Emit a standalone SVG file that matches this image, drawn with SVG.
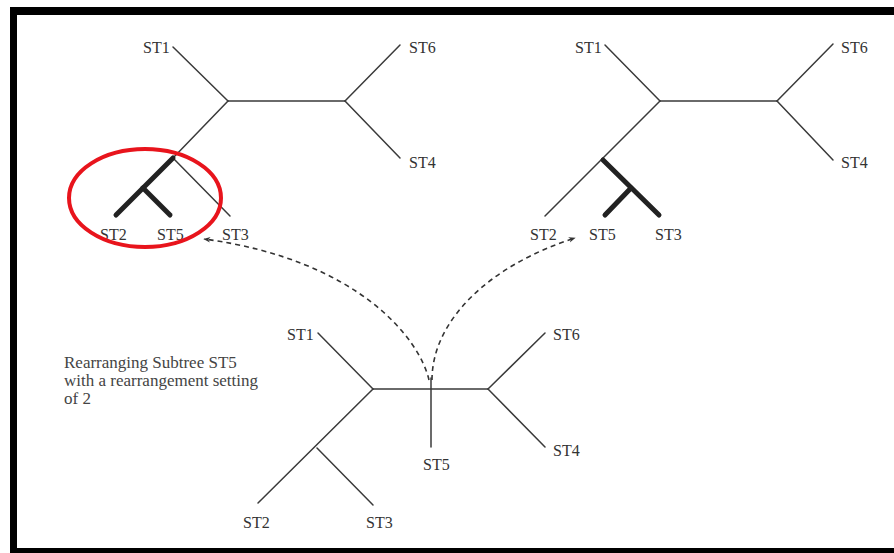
<svg xmlns="http://www.w3.org/2000/svg" width="894" height="553" viewBox="0 0 894 553">
  <style>
    .edge { stroke: #3a3a3a; stroke-width: 1.5; fill: none; stroke-linecap: round; }
    .bold { stroke: #222; stroke-width: 5; fill: none; stroke-linecap: round; }
    .lbl { font-family: "Liberation Serif", "Times New Roman", serif; font-size: 16px; fill: #333; }
    .note { font-family: "Liberation Serif", "Times New Roman", serif; font-size: 17px; fill: #444; }
    .move { stroke: #333; stroke-width: 1.6; fill: none; stroke-dasharray: 5 4; }
  </style>
  <defs>
    <marker id="tip" viewBox="0 0 10 10" refX="9" refY="5" markerWidth="7" markerHeight="7" orient="auto-start-reverse" markerUnits="userSpaceOnUse">
      <path d="M0,1 L10,5 L0,9 L3,5 Z" fill="#333"/>
    </marker>
  </defs>

  <rect width="894" height="553" fill="#fff"/>

  <!-- frame: left, top and bottom bars -->
  <g id="frame" fill="#000">
    <rect x="10" y="7" width="7" height="546"/>
    <rect x="10" y="7" width="884" height="8"/>
    <rect x="10" y="548" width="884" height="5"/>
  </g>

  <!-- tree before the move (upper left) -->
  <g id="tree-left">
    <line class="edge" x1="173" y1="47" x2="228" y2="101"/>
    <line class="edge" x1="228" y1="101" x2="345" y2="101"/>
    <line class="edge" x1="345" y1="101" x2="400" y2="45"/>
    <line class="edge" x1="345" y1="101" x2="400" y2="158"/>
    <line class="edge" x1="228" y1="101" x2="173" y2="158"/>
    <line class="edge" x1="173" y1="158" x2="230" y2="216"/>
    <line class="bold" x1="173" y1="158" x2="116" y2="215"/>
    <line class="bold" x1="143" y1="188" x2="170" y2="215"/>
    <text class="lbl" x="143" y="53">ST1</text>
    <text class="lbl" x="409" y="53">ST6</text>
    <text class="lbl" x="409" y="168">ST4</text>
    <text class="lbl" x="100" y="240">ST2</text>
    <text class="lbl" x="157" y="240">ST5</text>
    <text class="lbl" x="222" y="240">ST3</text>
  </g>

  <!-- highlight around the moved subtree -->
  <g id="highlight">
    <ellipse cx="145" cy="198" rx="76" ry="49" fill="none" stroke="#e8141c" stroke-width="4"/>
  </g>

  <!-- tree after the move (upper right) -->
  <g id="tree-right">
    <line class="edge" x1="605" y1="45" x2="660" y2="101"/>
    <line class="edge" x1="660" y1="101" x2="777" y2="101"/>
    <line class="edge" x1="777" y1="101" x2="833" y2="44"/>
    <line class="edge" x1="777" y1="101" x2="833" y2="160"/>
    <line class="edge" x1="660" y1="101" x2="545" y2="216"/>
    <line class="bold" x1="603" y1="160" x2="659" y2="215"/>
    <line class="bold" x1="631" y1="188" x2="605" y2="215"/>
    <text class="lbl" x="575" y="53">ST1</text>
    <text class="lbl" x="841" y="53">ST6</text>
    <text class="lbl" x="841" y="168">ST4</text>
    <text class="lbl" x="530" y="240">ST2</text>
    <text class="lbl" x="589" y="240">ST5</text>
    <text class="lbl" x="655" y="240">ST3</text>
  </g>

  <!-- starting tree (bottom centre) -->
  <g id="tree-start">
    <line class="edge" x1="318" y1="333" x2="373" y2="389"/>
    <line class="edge" x1="373" y1="389" x2="488" y2="389"/>
    <line class="edge" x1="488" y1="389" x2="545" y2="333"/>
    <line class="edge" x1="488" y1="389" x2="545" y2="447"/>
    <line class="edge" x1="431" y1="378" x2="431" y2="447"/>
    <line class="edge" x1="373" y1="389" x2="258" y2="503"/>
    <line class="edge" x1="317" y1="448" x2="373" y2="505"/>
    <text class="lbl" x="287" y="340">ST1</text>
    <text class="lbl" x="553" y="340">ST6</text>
    <text class="lbl" x="553" y="456">ST4</text>
    <text class="lbl" x="423" y="470">ST5</text>
    <text class="lbl" x="243" y="528">ST2</text>
    <text class="lbl" x="366" y="528">ST3</text>
  </g>

  <!-- caption -->
  <g id="caption">
    <text class="note" x="64" y="368">Rearranging Subtree ST5</text>
    <text class="note" x="64" y="386">with a rearrangement setting</text>
    <text class="note" x="64" y="404">of 2</text>
  </g>

  <!-- dashed moves of the ST5 subtree -->
  <g id="connectors">
    <path class="move" d="M429,380 C420,340 360,260 204,239" marker-end="url(#tip)"/>
    <path class="move" d="M432,380 C432,320 490,265 575,238" marker-end="url(#tip)"/>
  </g>
</svg>
